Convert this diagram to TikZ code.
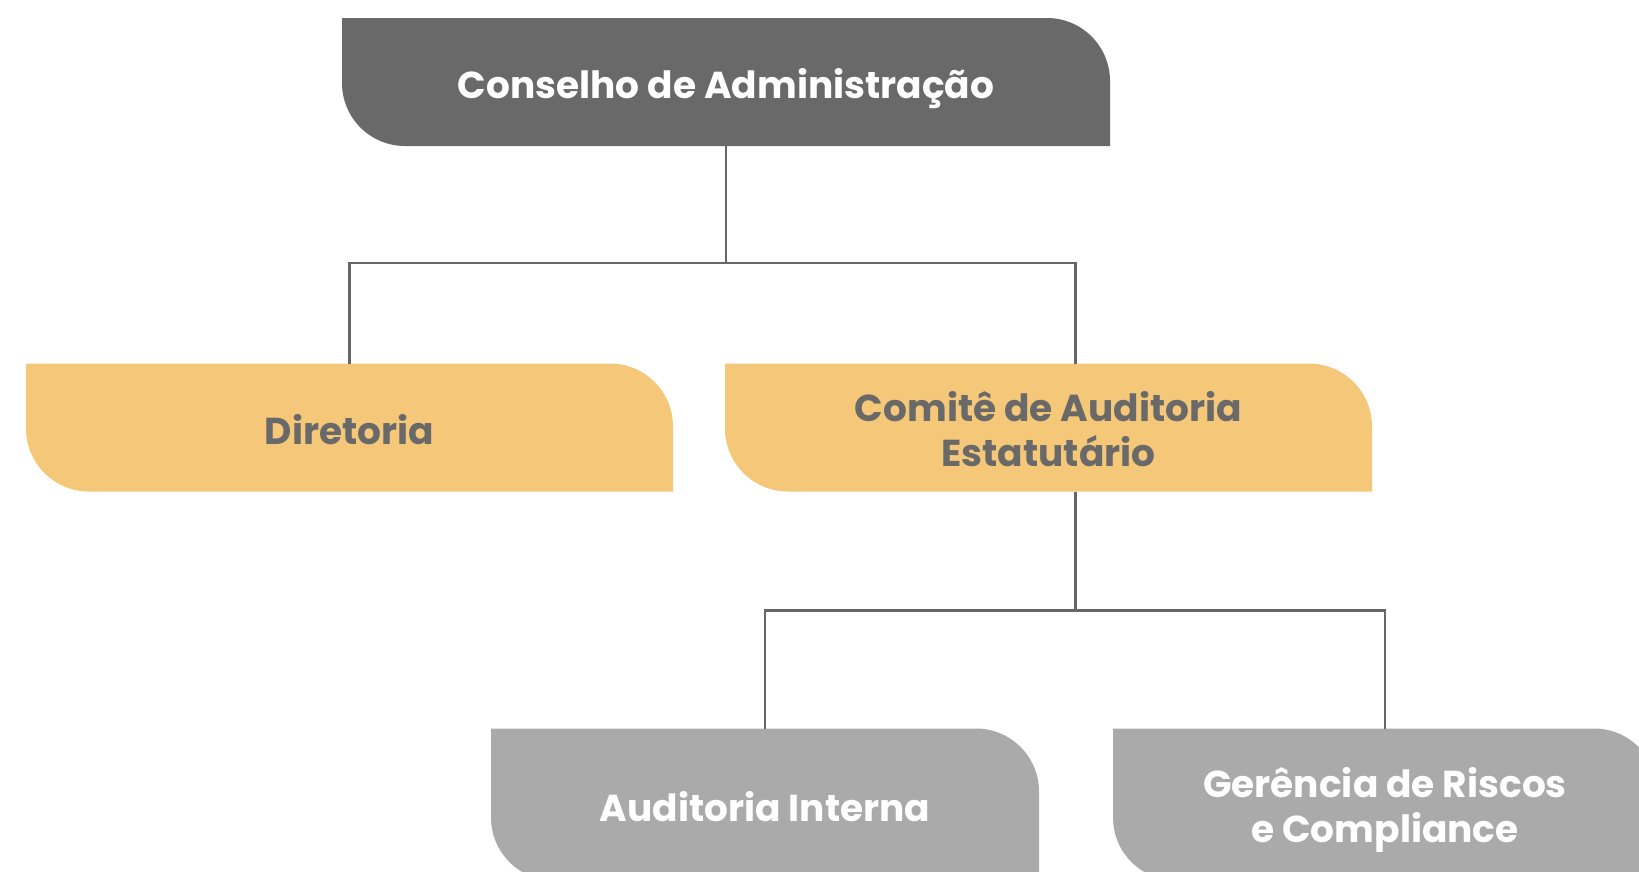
\documentclass[tikz,border=0pt]{standalone}
\usepackage{fontspec}
\setmainfont{Poppins}
\usetikzlibrary{positioning,backgrounds}
\definecolor{boxdark}{RGB}{104,105,104}
\definecolor{boxyellow}{RGB}{245,199,120}
\definecolor{boxlight}{RGB}{170,170,170}
\definecolor{linegray}{RGB}{102,102,102}
\tikzstyle{orgbox} = [rectangle, outer sep=0pt, inner sep=0pt, minimum width=647pt, minimum height=128pt, align=center, font=\fontsize{37.5}{45}\selectfont\bfseries]
\tikzstyle{oneline} = [text height=33pt, text depth=0pt]
\tikzstyle{topbox} = [orgbox, minimum width=768pt, text=white]
\tikzstyle{midbox} = [orgbox, text=boxdark]
\tikzstyle{lowbox} = [orgbox, minimum width=548pt, minimum height=152pt, text=white]
\tikzstyle{conn} = [draw=linegray, line width=2.5pt]

\begin{document}
\begin{tikzpicture}[x=1pt,y=-1pt]
  \useasboundingbox (0,0) rectangle (1639,871);
  \node[topbox, oneline] (cons) at (726,82) {Conselho de Administração};
  \node[midbox, oneline] (dir) at (349.5,427.5) {Diretoria};
  \node[midbox] (cae) [right=52pt of dir] {\rule{0pt}{34pt}Comitê de Auditoria\\Estatutário};
  \node[lowbox, oneline] (audi) at (765,804.5) {Auditoria Interna};
  \node[lowbox, minimum width=544pt] (grc) at (1385,804.5) {\rule{0pt}{41pt}Gerência de Riscos\\e Compliance};

  % box shapes: round top right and bottom left only
  \begin{pgfonlayer}{background}
    \foreach \n/\c in {cons/boxdark, dir/boxyellow, cae/boxyellow, audi/boxlight, grc/boxlight}
      \fill[\c] (\n.north west) -- ([xshift=-63pt]\n.north east)
        arc[start angle=90, end angle=0, radius=63pt] -- (\n.south east)
        -- ([xshift=63pt]\n.south west)
        arc[start angle=270, end angle=180, radius=63pt] -- cycle;
  \end{pgfonlayer}

  \coordinate (cae in) at ([xshift=27pt]cae.north);
  \coordinate (cae out) at ([xshift=27pt]cae.south);

  \draw[conn] (cons.south) -- ++(0,117) coordinate (split1);
  \draw[conn] (dir.north) |- (split1) -| (cae in);
  \draw[conn] (cae out) -- ++(0,119) coordinate (split2);
  \draw[conn] (audi.north) |- (split2) -| (grc.north);
\end{tikzpicture}
\end{document}
